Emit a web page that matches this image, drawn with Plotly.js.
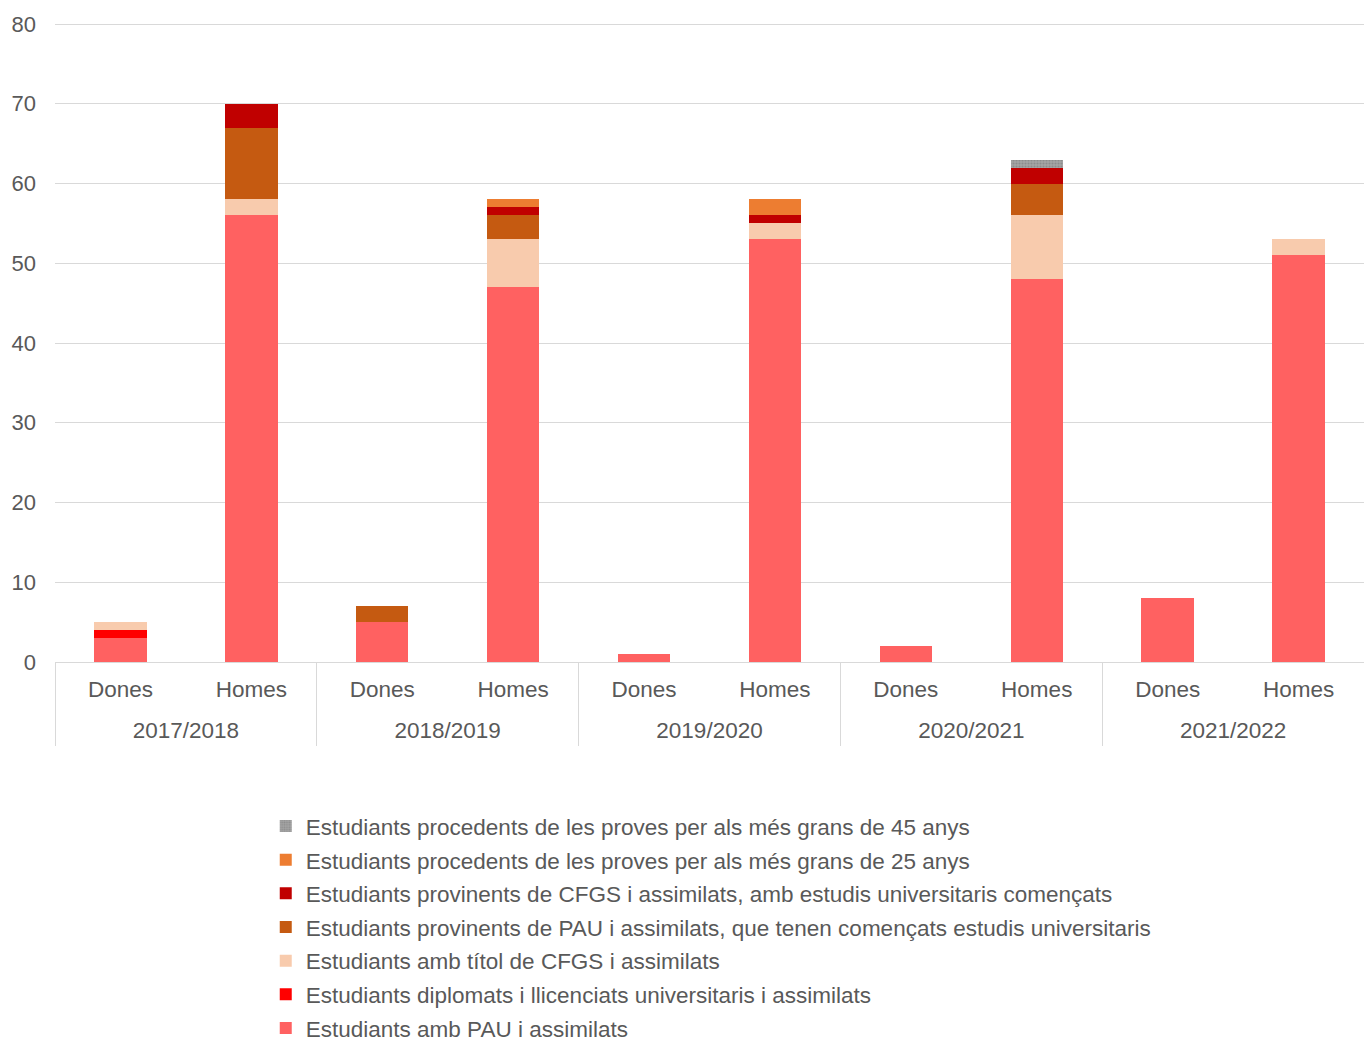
<!DOCTYPE html>
<html>
<head>
<meta charset="utf-8">
<script src="https://cdn.plot.ly/plotly-3.0.1.min.js"></script>
<style>html,body{margin:0;padding:0;background:#fff;}#chart{width:1364px;height:1042px;}</style>
</head>
<body>
<div id="chart"></div>
<script>
const years = ["2017/2018","2017/2018","2018/2019","2018/2019","2019/2020","2019/2020","2020/2021","2020/2021","2021/2022","2021/2022"];
const sexes = ["Dones","Homes","Dones","Homes","Dones","Homes","Dones","Homes","Dones","Homes"];
const yearLabels = ["2017/2018","2018/2019","2019/2020","2020/2021","2021/2022"];

const seriesNames = [
  "Estudiants amb PAU i assimilats",
  "Estudiants diplomats i llicenciats universitaris i assimilats",
  "Estudiants amb títol de CFGS i assimilats",
  "Estudiants provinents de PAU i assimilats, que tenen començats estudis universitaris",
  "Estudiants provinents de CFGS i assimilats, amb estudis universitaris començats",
  "Estudiants procedents de les proves per als més grans de 25 anys",
  "Estudiants procedents de les proves per als més grans de 45 anys"
];
const pau           = [3, 56, 5, 47, 1, 53, 2, 48, 8, 51];
const diplomats     = [1, 0, 0, 0, 0, 0, 0, 0, 0, 0];
const titolCFGS     = [1, 2, 0, 6, 0, 2, 0, 8, 0, 2];
const pauComencats  = [0, 9, 2, 3, 0, 0, 0, 4, 0, 0];
const cfgsComencats = [0, 3, 0, 1, 0, 1, 0, 2, 0, 0];
const grans25       = [0, 0, 0, 1, 0, 2, 0, 0, 0, 0];
const grans45       = [0, 0, 0, 0, 0, 0, 0, 1, 0, 0];
const yTicks = [0, 10, 20, 30, 40, 50, 60, 70, 80];

const seriesValues = [pau, diplomats, titolCFGS, pauComencats, cfgsComencats, grans25, grans45];
const colors = ["#FF6161", "#FF0000", "#F8CBAD", "#C55A11", "#C00000", "#ED7D31", "#A5A5A5"];

// unique category per bar (year + sex); the axis shows only the sex
const cats = years.map((y, i) => y + " " + sexes[i]);
const nCats = cats.length;
// group centres and group boundaries, in category-index units
const groupCentres = yearLabels.map((_, g) => g * 2 + 0.5);
const groupEdges = [];
for (let g = 0; g <= yearLabels.length; g++) groupEdges.push(g * 2 - 0.5);

const traces = seriesValues.map((vals, i) => {
  const t = {
    type: "bar",
    name: seriesNames[i],
    x: cats,
    y: vals,
    legendgroup: "g" + i,
    legendrank: 1000 - i,
    marker: { color: colors[i], line: { width: 0 } },
    hoverinfo: "skip"
  };
  if (i === 6) {
    t.marker.pattern = { shape: ".", fgcolor: "#8C8C8C", bgcolor: "#A5A5A5", size: 3, solidity: 0.4 };
  }
  return t;
});

// invisible helper traces so the year-label axis and the divider axis are drawn
traces.push({
  type: "scatter", mode: "none", xaxis: "x2", yaxis: "y",
  x: groupCentres, y: groupCentres.map(() => 0),
  showlegend: false, hoverinfo: "skip"
});
traces.push({
  type: "scatter", mode: "none", xaxis: "x3", yaxis: "y",
  x: groupEdges, y: groupEdges.map(() => 0),
  showlegend: false, hoverinfo: "skip"
});

const fontFam = "Liberation Sans, Arial, sans-serif";
const txtColor = "#595959";
const layout = {
  width: 1364,
  height: 1042,
  margin: { l: 55, r: 0, t: 21, b: 380 },
  paper_bgcolor: "#ffffff",
  plot_bgcolor: "#ffffff",
  barmode: "stack",
  bargap: 0.6,
  font: { family: fontFam, size: 22, color: txtColor },
  showlegend: true,
  legend: {
    x: 0.161, xanchor: "left",
    yref: "container",
    y: 0.2275, yanchor: "top",
    traceorder: "grouped",
    tracegroupgap: 1.4,
    font: { family: fontFam, size: 22.5, color: txtColor },
    itemwidth: 30
  },
  xaxis: {
    type: "category",
    tickmode: "array",
    tickvals: cats,
    ticktext: sexes,
    range: [-0.5, nCats - 0.5],
    automargin: false,
    showgrid: false,
    showline: true,
    linecolor: "#D9D9D9",
    linewidth: 1,
    ticks: "",
    ticklabelstandoff: 7,
    tickfont: { family: fontFam, size: 22.5, color: txtColor }
  },
  xaxis2: {
    overlaying: "x",
    anchor: "y",
    side: "bottom",
    type: "linear",
    range: [-0.5, nCats - 0.5],
    tickmode: "array",
    tickvals: groupCentres,
    ticktext: yearLabels,
    automargin: false,
    showgrid: false,
    zeroline: false,
    showline: false,
    ticks: "",
    ticklabelstandoff: 52,
    tickfont: { family: fontFam, size: 22.5, color: txtColor }
  },
  xaxis3: {
    overlaying: "x",
    anchor: "y",
    side: "bottom",
    type: "linear",
    range: [-0.5, nCats - 0.5],
    tickmode: "array",
    tickvals: groupEdges,
    showticklabels: false,
    automargin: false,
    showgrid: false,
    zeroline: false,
    showline: false,
    ticks: "outside",
    ticklen: 83,
    tickwidth: 1,
    tickcolor: "#D9D9D9"
  },
  yaxis: {
    range: [0, 80.38],
    tickmode: "array",
    tickvals: yTicks,
    automargin: false,
    showgrid: true,
    gridcolor: "#D9D9D9",
    gridwidth: 1,
    zeroline: false,
    showline: false,
    ticks: "",
    ticklabelstandoff: 18,
    tickfont: { family: fontFam, size: 22, color: txtColor }
  }
};

Plotly.newPlot("chart", traces, layout, { displayModeBar: false, staticPlot: true });
</script>
</body>
</html>
